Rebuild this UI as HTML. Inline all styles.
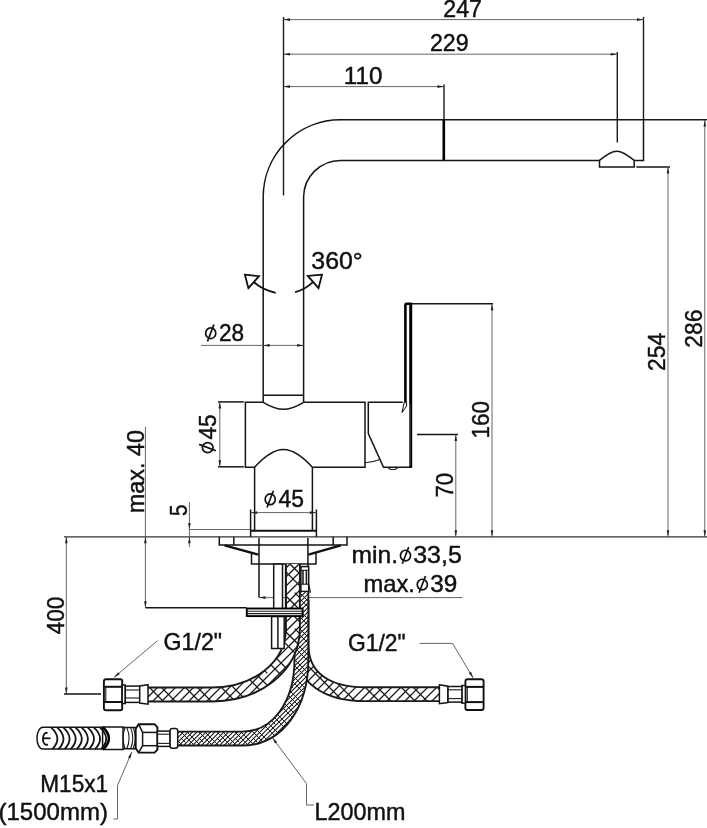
<!DOCTYPE html>
<html><head><meta charset="utf-8"><title>drawing</title>
<style>
html,body{margin:0;padding:0;background:#fff;}
body{width:707px;height:828px;overflow:hidden;}
svg{display:block;filter:grayscale(1);}
svg text{font-family:"Liberation Sans",sans-serif;fill:#111;stroke:#111;stroke-width:0.45;}
.m{stroke:#151515;stroke-width:1.5;fill:none;stroke-linecap:butt;stroke-linejoin:miter;}
.mw{stroke:#151515;stroke-width:1.5;fill:#fff;}
.k{stroke:#000;stroke-width:2.6;fill:none;}
.d{stroke:#555;stroke-width:0.9;fill:none;}
.a{fill:#222;stroke:none;}
.p{stroke:#111;stroke-width:1.7;fill:none;}
.k2{stroke:#111;stroke-width:2;fill:none;}
.k3{stroke:#000;stroke-width:3;fill:none;}
.d2{stroke:#333;stroke-width:1.2;fill:none;}
.mf{stroke:#111;stroke-width:1;fill:#fff;}
.e{stroke:#1a1a1a;stroke-width:1.4;fill:none;}
.kw{stroke:#000;stroke-width:1.9;fill:#fff;}
.nw{stroke:#111;stroke-width:1.9;fill:#fff;}
.wl{stroke:#fff;stroke-width:0.5;fill:none;opacity:.6}
.c{stroke:#111;stroke-width:1.8;fill:none;}
.k25{stroke:#111;stroke-width:2.4;fill:none;}
.h{stroke:#1a1a1a;stroke-width:1.1;fill:none;}
</style></head><body>
<svg width="707" height="828" viewBox="0 0 707 828">
<rect x="0" y="0" width="707" height="828" fill="#fff"/>
<defs><pattern id="hc" width="36" height="36" patternUnits="userSpaceOnUse" x="5" y="687"><rect width="36" height="36" fill="#fff"/><path d="M-37,37 L1,-1 M-28,37 L10,-1 M-19,37 L19,-1 M-10,37 L28,-1 M-1,37 L37,-1 M8,37 L46,-1 M17,37 L55,-1 M26,37 L64,-1 M35,37 L73,-1" stroke="#1a1a1a" stroke-width="1.25" fill="none"/><path d="M-37,-1 L1,37 M-25,-1 L13,37 M1.68,13.68 L10.32,22.32 M37.68,13.68 L46.32,22.32 M-34.32,13.68 L-25.68,22.32 M-1,-1 L37,37 M11,-1 L49,37 M37.68,13.68 L46.32,22.32 M73.68,13.68 L82.32,22.32 M1.68,13.68 L10.32,22.32 M35,-1 L73,37" stroke="#1a1a1a" stroke-width="1.25" fill="none"/></pattern><pattern id="hf" width="18" height="18" patternUnits="userSpaceOnUse" x="0" y="731"><rect width="18" height="18" fill="#fff"/><path d="M-19,19 L1,-1 M-14.5,19 L5.5,-1 M-10.0,19 L10.0,-1 M-5.5,19 L14.5,-1 M-1.0,19 L19.0,-1 M3.5,19 L23.5,-1 M8.0,19 L28.0,-1 M12.5,19 L32.5,-1 M17.0,19 L37.0,-1" stroke="#1a1a1a" stroke-width="1.1" fill="none"/><path d="M-19,-1 L1,19 M-13,-1 L7,19 M0.84,6.84 L5.16,11.16 M18.84,6.84 L23.16,11.16 M-17.16,6.84 L-12.84,11.16 M-1,-1 L19,19 M5,-1 L25,19 M18.84,6.84 L23.16,11.16 M36.84,6.84 L41.16,11.16 M0.84,6.84 L5.16,11.16 M17,-1 L37,19" stroke="#1a1a1a" stroke-width="1.0" fill="none"/></pattern></defs>
<line class="e" x1="283.5" y1="17" x2="283.5" y2="195.5"/>
<line class="e" x1="643.5" y1="17" x2="643.5" y2="120"/>
<line class="e" x1="617.3" y1="52" x2="617.3" y2="142.5"/>
<line class="e" x1="444" y1="84.5" x2="444" y2="120"/>
<line class="d" x1="283.5" y1="19.6" x2="643.5" y2="19.6"/>
<polygon class="a" points="283.50,19.60 290.00,18.30 290.00,20.90"/>
<polygon class="a" points="643.50,19.60 637.00,20.90 637.00,18.30"/>
<line class="d" x1="283.5" y1="54.2" x2="617.3" y2="54.2"/>
<polygon class="a" points="283.50,54.20 290.00,52.90 290.00,55.50"/>
<polygon class="a" points="617.30,54.20 610.80,55.50 610.80,52.90"/>
<line class="d" x1="283.5" y1="86.6" x2="444" y2="86.6"/>
<polygon class="a" points="283.50,86.60 290.00,85.30 290.00,87.90"/>
<polygon class="a" points="444.00,86.60 437.50,87.90 437.50,85.30"/>
<text x="443.3" y="17.3" font-size="24" textLength="38.6" lengthAdjust="spacingAndGlyphs" text-anchor="start">247</text>
<text x="430" y="50.9" font-size="24" textLength="38.6" lengthAdjust="spacingAndGlyphs" text-anchor="start">229</text>
<text x="343.8" y="83.5" font-size="24" textLength="38.6" lengthAdjust="spacingAndGlyphs" text-anchor="start">110</text>
<line class="e" x1="643.5" y1="119.8" x2="707" y2="119.8"/>
<line class="d" x1="704.8" y1="120" x2="704.8" y2="536.8"/>
<polygon class="a" points="704.80,120.00 706.10,126.50 703.50,126.50"/>
<polygon class="a" points="704.80,536.80 703.50,530.30 706.10,530.30"/>
<line class="m" x1="636.3" y1="167" x2="670" y2="167"/>
<line class="d" x1="668" y1="167" x2="668" y2="536.8"/>
<polygon class="a" points="668.00,167.00 669.30,173.50 666.70,173.50"/>
<polygon class="a" points="668.00,536.80 666.70,530.30 669.30,530.30"/>
<text x="665" y="371" font-size="24" textLength="38.2" lengthAdjust="spacingAndGlyphs" transform="rotate(-90 665 371)" text-anchor="start">254</text>
<text x="702" y="347.8" font-size="24" textLength="38.2" lengthAdjust="spacingAndGlyphs" transform="rotate(-90 702 347.8)" text-anchor="start">286</text>
<line class="m" x1="412" y1="303.7" x2="493" y2="303.7"/>
<line class="d" x1="492" y1="303.7" x2="492" y2="536.8"/>
<polygon class="a" points="492.00,303.70 493.30,310.20 490.70,310.20"/>
<polygon class="a" points="492.00,536.80 490.70,530.30 493.30,530.30"/>
<text x="489" y="438.4" font-size="24" textLength="37.5" lengthAdjust="spacingAndGlyphs" transform="rotate(-90 489 438.4)" text-anchor="start">160</text>
<line class="m" x1="417" y1="434.5" x2="458" y2="434.5"/>
<line class="d" x1="455.8" y1="434.5" x2="455.8" y2="536.8"/>
<polygon class="a" points="455.80,434.50 457.10,441.00 454.50,441.00"/>
<polygon class="a" points="455.80,536.80 454.50,530.30 457.10,530.30"/>
<text x="453.3" y="497.6" font-size="24" textLength="24.6" lengthAdjust="spacingAndGlyphs" transform="rotate(-90 453.3 497.6)" text-anchor="start">70</text>
<line class="d2" x1="64" y1="536.8" x2="707" y2="536.8"/>
<path class="m" d="M263.2,402.3 L263.2,197 A77.3,77.3 0 0 1 340.5,119.8 L643.5,119.8 L643.5,160.4 L634.2,160.4" />
<path class="m" d="M303.6,402.3 L303.6,197 A36.9,36.9 0 0 1 340.5,160.4 L599.5,160.4" />
<line class="k" x1="443.8" y1="119.8" x2="443.8" y2="160.4"/>
<path class="m" d="M599.5,160.4 L599.5,167 L634.2,167 L634.2,160.4 C627,154.5 621.5,151.2 616.8,151.2 C612,151.2 606.5,154.5 599.5,160.4 Z" />
<line class="m" x1="263.2" y1="395.3" x2="303.6" y2="395.3"/>
<path class="m" d="M263.2,402.3 C272,407.5 278,409.3 283.4,409.3 C289,409.3 295,407.5 303.6,402.3" />
<path class="c" d="M275.7,292.8 Q262.5,289.8 253.6,282" />
<path class="c" d="M244.9,274.7 L259,276.1 L248.4,288.2 Z" />
<path class="c" d="M295.1,292.1 Q305,289.6 313.2,281.8" />
<path class="c" d="M322,274.7 L307.8,275.9 L318.5,288.2 Z" />
<text x="311.3" y="269.4" font-size="24" textLength="51.5" lengthAdjust="spacingAndGlyphs" text-anchor="start">360°</text>
<line class="d" x1="201" y1="345.4" x2="303.6" y2="345.4"/>
<polygon class="a" points="263.20,345.40 269.70,344.10 269.70,346.70"/>
<polygon class="a" points="303.60,345.40 297.10,346.70 297.10,344.10"/>
<g><ellipse class="p" cx="210.7" cy="333.2" rx="5.05" ry="5.35"/><line class="p" x1="207.5" y1="341.4" x2="213.89999999999998" y2="324.59999999999997"/></g>
<text x="218.9" y="341.3" font-size="24" textLength="25.2" lengthAdjust="spacingAndGlyphs" text-anchor="start">28</text>
<path class="m" d="M263.2,402.3 L245.4,402.3 L245.4,467.2 L254.6,467.2" />
<path class="m" d="M303.6,402.3 L365,402.3 L365,467.2 L312.4,467.2" />
<path class="m" d="M254.6,467.2 C262,459 272,449.4 283.4,449.4 C295,449.4 305,459 312.4,467.2" />
<path class="m" d="M402.8,402.3 L368.3,402.3 L368.3,433.5 L383.5,467.2 L412,467.2" />
<path class="h" d="M365,462.8 Q373,462.3 379.8,459.6" />
<path class="h" d="M388.3,467.3 A4.6,2.6 0 0 0 397.4,467.3" />
<path class="k" d="M405.4,406 L405.4,304.9 Q405.4,303.7 406.6,303.7 L412,303.7" />
<line class="k3" x1="410.7" y1="303.7" x2="410.7" y2="467.2"/>
<line class="wl" x1="410.0" y1="404" x2="410.0" y2="466"/>
<path class="mf" d="M404.2,402.3 L406.6,402.3 L406.6,406 L402,412.6 Z" />
<line class="m" x1="218" y1="401.9" x2="243.8" y2="401.9"/>
<line class="m" x1="218" y1="466.8" x2="243.8" y2="466.8"/>
<line class="d" x1="219.8" y1="401.9" x2="219.8" y2="466.8"/>
<polygon class="a" points="219.80,401.90 221.10,408.40 218.50,408.40"/>
<polygon class="a" points="219.80,466.80 218.50,460.30 221.10,460.30"/>
<g transform="rotate(-90 207.7 447.6)"><ellipse class="p" cx="207.7" cy="447.6" rx="5.05" ry="5.35"/><line class="p" x1="204.5" y1="455.8" x2="210.89999999999998" y2="439.0"/></g>
<text x="215.7" y="439.6" font-size="24" textLength="25.2" lengthAdjust="spacingAndGlyphs" transform="rotate(-90 215.7 439.6)" text-anchor="start">45</text>
<line class="m" x1="254.6" y1="467.2" x2="254.6" y2="530.3"/>
<line class="m" x1="312.4" y1="467.2" x2="312.4" y2="530.3"/>
<line class="m" x1="250.6" y1="509.5" x2="250.6" y2="537"/>
<line class="m" x1="316.4" y1="509.5" x2="316.4" y2="537"/>
<line class="d" x1="250.6" y1="512.6" x2="316.4" y2="512.6"/>
<polygon class="a" points="250.60,512.60 257.10,511.30 257.10,513.90"/>
<polygon class="a" points="316.40,512.60 309.90,513.90 309.90,511.30"/>
<g><ellipse class="p" cx="270.2" cy="499.3" rx="5.05" ry="5.35"/><line class="p" x1="267.0" y1="507.5" x2="273.4" y2="490.7"/></g>
<text x="278.5" y="507.4" font-size="24" textLength="25.5" lengthAdjust="spacingAndGlyphs" text-anchor="start">45</text>
<line class="k2" x1="250.6" y1="530.8" x2="316.4" y2="530.8"/>
<line class="d" x1="189.4" y1="502" x2="189.4" y2="547"/>
<polygon class="a" points="189.40,529.50 188.10,523.00 190.70,523.00"/>
<polygon class="a" points="189.40,536.80 190.70,543.30 188.10,543.30"/>
<line class="d" x1="189.4" y1="529.5" x2="250.3" y2="529.5"/>
<text x="187.4" y="516" font-size="24" textLength="11.4" lengthAdjust="spacingAndGlyphs" transform="rotate(-90 187.4 516)" text-anchor="start">5</text>
<line class="d" x1="145.4" y1="426.7" x2="145.4" y2="607.8"/>
<polygon class="a" points="145.40,536.80 146.70,543.30 144.10,543.30"/>
<polygon class="a" points="145.40,607.80 144.10,601.30 146.70,601.30"/>
<line class="m" x1="145.4" y1="607.8" x2="246.5" y2="607.8"/>
<text x="143.6" y="513.2" font-size="24" textLength="83.2" lengthAdjust="spacingAndGlyphs" transform="rotate(-90 143.6 513.2)" text-anchor="start">max. 40</text>
<line class="d" x1="66.3" y1="536.8" x2="66.3" y2="694"/>
<polygon class="a" points="66.30,536.80 67.60,543.30 65.00,543.30"/>
<polygon class="a" points="66.30,694.00 65.00,687.50 67.60,687.50"/>
<line class="m" x1="64" y1="694" x2="101" y2="694"/>
<text x="64" y="634.2" font-size="24" textLength="37.6" lengthAdjust="spacingAndGlyphs" transform="rotate(-90 64 634.2)" text-anchor="start">400</text>
<path class="m" d="M219.3,536.8 L219.3,544.9 L347,544.9 L347,536.8" />
<line class="m" x1="233.8" y1="536.8" x2="233.8" y2="544.9"/>
<line class="m" x1="333.2" y1="536.8" x2="333.2" y2="544.9"/>
<line class="k25" x1="224.5" y1="545.4" x2="258.5" y2="554.6"/>
<line class="k25" x1="340.8" y1="545.4" x2="308.4" y2="554.6"/>
<line class="m" x1="259" y1="538" x2="259" y2="597.6"/>
<line class="m" x1="307.9" y1="538" x2="307.9" y2="566"/>
<path class="m" d="M251.5,552.6 L251.5,564.1 L316,564.1 L316,552.6" />
<line class="d" x1="259" y1="597.6" x2="462.5" y2="597.6"/>
<polygon class="a" points="259.00,597.60 265.50,596.30 265.50,598.90"/>
<text x="351.5" y="563.4" font-size="24" textLength="46.5" lengthAdjust="spacingAndGlyphs" text-anchor="start">min.</text>
<g><ellipse class="p" cx="405.5" cy="555.6" rx="5.05" ry="5.35"/><line class="p" x1="402.3" y1="563.8000000000001" x2="408.7" y2="547.0"/></g>
<text x="413.2" y="563.4" font-size="24" textLength="48.7" lengthAdjust="spacingAndGlyphs" text-anchor="start">33,5</text>
<text x="363.4" y="592.4" font-size="24" textLength="51.5" lengthAdjust="spacingAndGlyphs" text-anchor="start">max.</text>
<g><ellipse class="p" cx="422.3" cy="584.6" rx="5.05" ry="5.35"/><line class="p" x1="419.1" y1="592.8000000000001" x2="425.5" y2="576.0"/></g>
<text x="430.2" y="592.4" font-size="24" textLength="27" lengthAdjust="spacingAndGlyphs" text-anchor="start">39</text>
<path d="M301.5,600 L301.5,645 C301.5,680 330,694.2 365,694.2 L439.5,694.2" fill="none" stroke="#1a1a1a" stroke-width="15.8"/>
<path d="M301.5,600 L301.5,645 C301.5,680 330,694.2 365,694.2 L439.5,694.2" fill="none" stroke="url(#hc)" stroke-width="12.0"/>
<path d="M301.4,592 L301.4,660 C301.4,704 278,738.6 242,738.6 L177.5,738.6" fill="none" stroke="#1a1a1a" stroke-width="15.8"/>
<path d="M301.4,592 L301.4,660 C301.4,704 278,738.6 242,738.6 L177.5,738.6" fill="none" stroke="url(#hf)" stroke-width="12.0"/>
<path d="M148,694.5 L212,694.5 C255,694.5 292.9,668 292.9,628 L292.9,564.1" fill="none" stroke="#1a1a1a" stroke-width="15.8"/>
<path d="M148,694.5 L212,694.5 C255,694.5 292.9,668 292.9,628 L292.9,564.1" fill="none" stroke="url(#hc)" stroke-width="12.0"/>
<rect class="mw" x="273.7" y="564.1" width="8.8" height="45" />
<line class="m" x1="285.6" y1="564.1" x2="285.6" y2="608"/>
<rect class="mw" x="271.6" y="616.5" width="12.6" height="32" />
<line class="m" x1="277.9" y1="616.5" x2="277.9" y2="648.5"/>
<rect class="mw" x="300.9" y="566.6" width="7.8" height="24.8" />
<line class="h" x1="300.9" y1="570.3" x2="308.7" y2="570.3"/>
<line class="h" x1="300.9" y1="584.2" x2="308.7" y2="584.2"/>
<line class="m" x1="303" y1="570.3" x2="303" y2="584.2"/>
<line class="m" x1="306.4" y1="570.3" x2="306.4" y2="584.2"/>
<path class="h" d="M308.7,584.2 L310.4,592 L308.7,592" />
<rect class="kw" x="246.8" y="608.5" width="55.8" height="7.6" />
<line class="h" x1="246.5" y1="611.2" x2="302.6" y2="611.2"/>
<line class="h" x1="246.5" y1="613.6" x2="302.6" y2="613.6"/>
<path class="nw" d="M106.2,679.3 L120.4,679.3 Q122.2,679.3 122.2,681.4 L122.2,708.2 Q122.2,710.3 120.4,710.3 L106.2,710.3 Q103.9,710.3 103.9,708.2 L103.9,681.4 Q103.9,679.3 106.2,679.3 Z" />
<line class="k2" x1="103.9" y1="686.8" x2="122.2" y2="686.8"/>
<line class="k2" x1="103.9" y1="702" x2="122.2" y2="702"/>
<line class="h" x1="105.8" y1="686.8" x2="105.8" y2="702"/>
<rect class="mw" x="122.2" y="685" width="3.1" height="18.5" />
<rect class="mw" x="125.3" y="686.1" width="14.4" height="16.3" />
<line class="h" x1="125.3" y1="690" x2="139.7" y2="690"/>
<line class="h" x1="125.3" y1="698" x2="139.7" y2="698"/>
<path class="mw" d="M139.7,686 L148,684.7 L148,704.2 L139.7,703 Z" />
<line class="d" x1="157.4" y1="640.8" x2="114" y2="677.4"/>
<polygon class="a" points="114.00,677.40 118.14,672.23 119.81,674.22"/>
<text x="163.6" y="650" font-size="24" textLength="58.4" lengthAdjust="spacingAndGlyphs" text-anchor="start">G1/2"</text>
<path class="nw" d="M467.6,679.3 L481.4,679.3 Q483.6,679.3 483.6,681.4 L483.6,707.9 Q483.6,710 481.4,710 L467.6,710 Q465.4,710 465.4,707.9 L465.4,681.4 Q465.4,679.3 467.6,679.3 Z" />
<line class="k2" x1="465.4" y1="686.9" x2="483.6" y2="686.9"/>
<line class="k2" x1="465.4" y1="702.1" x2="483.6" y2="702.1"/>
<line class="h" x1="467.3" y1="686.9" x2="467.3" y2="702.1"/>
<rect class="mw" x="461.9" y="685.5" width="3.5" height="17.6" />
<rect class="mw" x="447.8" y="686.5" width="14.1" height="15.6" />
<line class="h" x1="447.8" y1="689.8" x2="461.9" y2="689.8"/>
<line class="h" x1="447.8" y1="698.6" x2="461.9" y2="698.6"/>
<path class="mw" d="M439.4,684.8 L447.8,686.2 L447.8,702.6 L439.4,703.7 Z" />
<path class="d" d="M419.5,643.4 L452.6,643.4 L473.2,678" />
<polygon class="a" points="473.20,678.00 468.74,673.10 470.97,671.76"/>
<text x="348" y="650.6" font-size="24" textLength="57.6" lengthAdjust="spacingAndGlyphs" text-anchor="start">G1/2"</text>
<path class="mw" d="M42.8,727.3 L102.6,727.3 L102.6,749.1 L42.8,749.1 A5.8,10.9 0 0 1 42.8,727.3 Z" />
<path class="c" d="M51.0,727.3 Q63.1,738.2 52.3,749.1" />
<path class="c" d="M57.1,727.3 Q69.2,738.2 58.4,749.1" />
<path class="c" d="M63.2,727.3 Q75.3,738.2 64.5,749.1" />
<path class="c" d="M69.3,727.3 Q81.4,738.2 70.6,749.1" />
<path class="c" d="M75.4,727.3 Q87.5,738.2 76.7,749.1" />
<path class="c" d="M81.5,727.3 Q93.6,738.2 82.8,749.1" />
<path class="c" d="M87.6,727.3 Q99.7,738.2 88.9,749.1" />
<path class="c" d="M93.7,727.3 Q105.8,738.2 95.0,749.1" />
<path class="c" d="M99.8,727.3 Q111.9,738.2 101.1,749.1" />
<path class="c" d="M47.5,733.2 A3.4,6 0 1 0 47.8,744.2" />
<path class="c" d="M43,738.3 L50.5,738.3" />
<path class="m" d="M102.6,727 L123,727 L123,749.6 L102.8,749.6" />
<path class="k" d="M102.6,727 Q115,738.3 103,749.6" />
<path class="m" d="M123,727.6 L136,727.6 M123,748.8 L136,748.8" />
<path class="h" d="M125,727.6 Q121.2,738.2 125,748.8 M126.8,727.6 Q131.4,738.2 126.8,748.8 M130.6,727.6 Q135,738.2 130.6,748.8 M133.2,727.6 Q137.4,738.2 133.2,748.8" />
<path class="nw" d="M138.6,724.2 L154.6,724.2 L157.4,727.4 L157.4,749.6 L154.6,752.6 L138.6,752.6 L135.7,748.2 L135.7,728.8 Z" />
<path class="m" d="M138.6,724.2 L142.6,732.4 L142.6,745.7 L138.6,752.6" />
<line class="m" x1="142.6" y1="732.4" x2="157.4" y2="732.4"/>
<line class="m" x1="142.6" y1="745.7" x2="157.4" y2="745.7"/>
<rect class="mw" x="157.4" y="731.1" width="12.7" height="15.3" />
<line class="h" x1="157.4" y1="734.2" x2="170.1" y2="734.2"/>
<line class="h" x1="157.4" y1="743.4" x2="170.1" y2="743.4"/>
<rect class="mw" x="170.1" y="728.6" width="7.6" height="19.7" rx="2.2"/>
<path class="d" d="M131.8,752 L117.5,785.5 L117.5,819 L113.5,819" />
<polygon class="a" points="131.80,752.00 130.46,758.49 128.06,757.48"/>
<text x="40.3" y="791.7" font-size="24" textLength="67.8" lengthAdjust="spacingAndGlyphs" text-anchor="start">M15x1</text>
<text x="-1.5" y="819.8" font-size="24" textLength="109.5" lengthAdjust="spacingAndGlyphs" text-anchor="start">(1500mm)</text>
<path class="d" d="M272.3,737.6 L306.5,783.6 L306.5,805 L314,805" />
<polygon class="a" points="272.30,737.60 277.21,742.05 275.12,743.60"/>
<text x="314.6" y="819.7" font-size="24" textLength="90.8" lengthAdjust="spacingAndGlyphs" text-anchor="start">L200mm</text>
</svg>
</body></html>
